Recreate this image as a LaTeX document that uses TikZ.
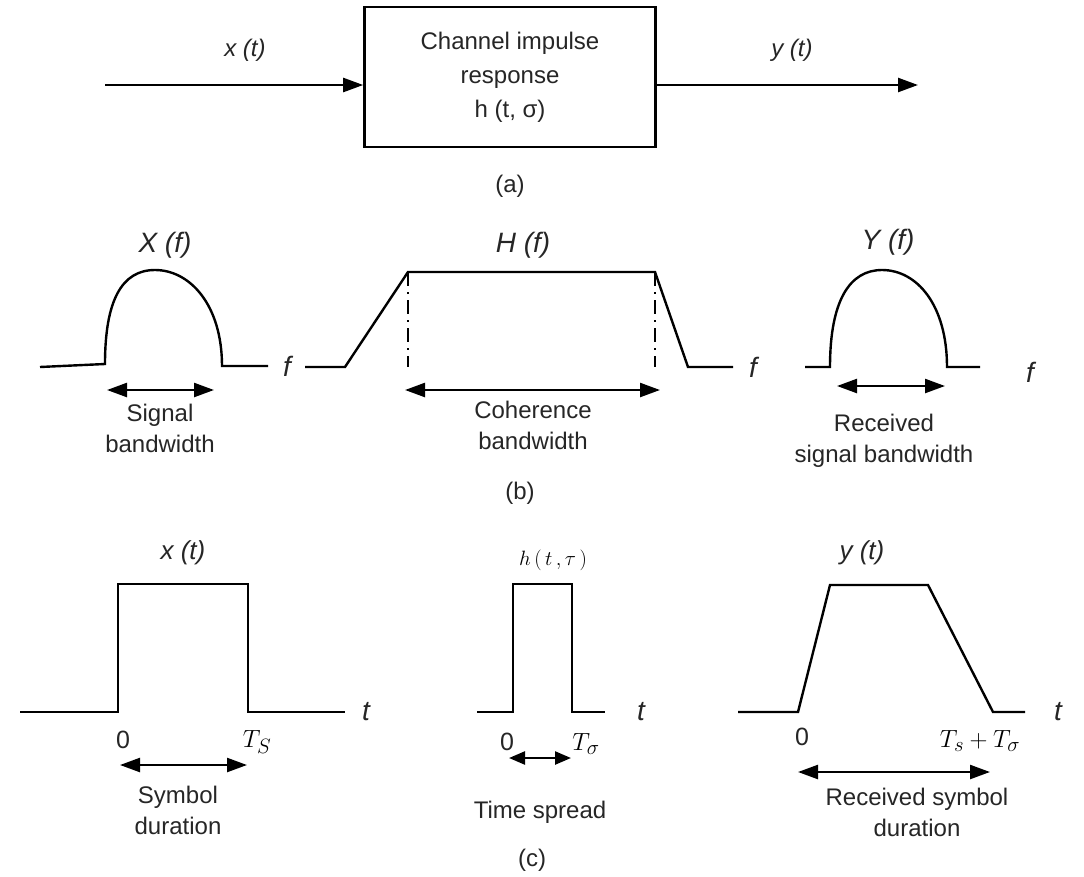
\documentclass[tikz,border=0pt]{standalone}
\usepackage{fontspec}
\setmainfont{Liberation Sans}
\usetikzlibrary{arrows.meta}
\tikzset{
  sig/.style={line width=2.4pt, line join=miter},
  arr/.style={line width=2.4pt, -{Triangle[length=20pt,width=14pt]}},
  darr/.style={line width=2.4pt, {Triangle[length=20pt,width=14pt]}-{Triangle[length=20pt,width=14pt]}},
  dd/.style={line width=1.5pt, dash pattern=on 14pt off 6pt on 2pt off 6pt},
  lbl/.style={font=\fontsize{24}{31}\selectfont, align=center, inner sep=0pt, text=black!85},
  ital/.style={font=\fontsize{28}{30}\selectfont\itshape, inner sep=0pt, text=black!85},
  mth/.style={font=\fontsize{30}{34}\selectfont, inner sep=0pt, text=black},
  blk/.style={draw, line width=2.6pt, minimum width=291pt, minimum height=140pt, align=center,
              font=\fontsize{24}{34}\selectfont, text=black!85}
}
\begin{document}
\begin{tikzpicture}[x=1pt,y=-1pt]
\fill[white] (0,0) rectangle (1084,876);
\useasboundingbox (0,0) rectangle (1084,876);

% ---------------- (a)
\node[blk] (box) at (510,77) {Channel impulse\\response\\h (t, σ)};
\coordinate (xin) at (105,85);
\coordinate (yout) at (918,85);
\draw[arr] (xin) -- (xin -| box.west);
\draw[arr] (xin -| box.east) -- (yout);
\node[ital, font=\fontsize{24}{30}\selectfont\itshape] (xlab) at (245,50) {x (t)};
\node[ital, font=\fontsize{24}{30}\selectfont\itshape] (ylab) at (792,50) {y (t)};
\node[lbl] (capa) at (510,186) {(a)};

% ---------------- (b) left: X(f)
\coordinate (xb0) at (40,367);
\coordinate (xb1) at (105,364);
\coordinate (xb2) at (222,366);
\coordinate (xb3) at (268,366);
\draw[sig] (xb0) -- (xb1) .. controls (105,300) and (122,270) .. (155,270)
  .. controls (190,270) and (222,305) .. (xb2) -- (xb3);
\node[ital] (Xf) at (165,245) {X (f)};
\node[ital] (f1) at (287,366) {f};
\coordinate (sba) at (107,390);
\coordinate (sbb) at (214,390);
\draw[darr] (sba) -- (sbb);
\node[lbl] (sbl) at (160,428) {Signal\\bandwidth};

% ---------------- (b) middle: H(f)
\coordinate (h0) at (305,367);
\coordinate (h1) at (345,367);
\coordinate (h2) at (408,272);
\coordinate (h3) at (655,272);
\coordinate (h4) at (688,367);
\coordinate (h5) at (733,367);
\draw[sig] (h0) -- (h1) -- (h2) -- (h3) -- (h4) -- (h5);
\coordinate (h2b) at (408,367);
\coordinate (h3b) at (655,367);
\draw[dd] (h2) -- (h2b);
\draw[dd] (h3) -- (h3b);
\node[ital] (Hf) at (523,245) {H (f)};
\node[ital] (f2) at (753,367) {f};
\coordinate (cba) at (405,390);
\coordinate (cbb) at (660,390);
\draw[darr] (cba) -- (cbb);
\node[lbl] (cbl) at (533,425) {Coherence\\bandwidth};
\node[lbl] (capb) at (520,493) {(b)};

% ---------------- (b) right: Y(f)
\coordinate (yb0) at (805,367);
\coordinate (yb1) at (830,367);
\coordinate (yb2) at (947,367);
\coordinate (yb3) at (980,367);
\draw[sig] (yb0) -- (yb1) .. controls (830,300) and (850,270) .. (882,270)
  .. controls (917,270) and (947,305) .. (yb2) -- (yb3);
\node[ital] (Yf) at (888,242) {Y (f)};
\node[ital] (f3) at (1030,372) {f};
\coordinate (rba) at (837,386);
\coordinate (rbb) at (945,386);
\draw[darr] (rba) -- (rbb);
\node[lbl] (rbl) at (884,441) {Received\\signal bandwidth};

% ---------------- (c) left: x(t)
\coordinate (c0) at (20,712);
\coordinate (c1) at (118,712);
\coordinate (c2) at (118,584);
\coordinate (c3) at (248,584);
\coordinate (c4) at (248,712);
\coordinate (c5) at (345,712);
\draw[sig] (c0) -- (c1) -- (c2) -- (c3) -- (c4) -- (c5);
\node[ital, font=\fontsize{26}{30}\selectfont\itshape] (xt) at (183,553) {x (t)};
\node[ital] (t1) at (366,712) {t};
\node[lbl, font=\fontsize{25}{30}\selectfont] (z1) at (123,740) {0};
\node[mth] (ts1) at (257,742) {$T_S$};
\coordinate (sda) at (120,765);
\coordinate (sdb) at (247,765);
\draw[darr] (sda) -- (sdb);
\node[lbl] (sdl) at (178,810) {Symbol\\duration};

% ---------------- (c) middle: h(t,tau)
\coordinate (m0) at (477,712);
\coordinate (m1) at (513,712);
\coordinate (m2) at (513,584);
\coordinate (m3) at (572,584);
\coordinate (m4) at (572,712);
\coordinate (m5) at (605,712);
\draw[sig] (m0) -- (m1) -- (m2) -- (m3) -- (m4) -- (m5);
\node[mth, font=\fontsize{22}{26}\selectfont] (ht) at (553,560) {$h\,(\,t\,,\tau\,)$};
\node[ital] (t2) at (641,712) {t};
\node[lbl, font=\fontsize{25}{30}\selectfont] (z2) at (507,742) {0};
\node[mth] (ts2) at (586,744) {$T_\sigma$};
\coordinate (tsa) at (509,758);
\coordinate (tsb) at (571,758);
\draw[darr, {Triangle[length=16pt,width=13pt]}-{Triangle[length=16pt,width=13pt]}] (tsa) -- (tsb);
\node[lbl] (tsl) at (540,812) {Time spread};
\node[lbl] (capc) at (532,860) {(c)};

% ---------------- (c) right: y(t)
\coordinate (r0) at (738,712);
\coordinate (r1) at (798,712);
\coordinate (r2) at (830,585);
\coordinate (r3) at (928,585);
\coordinate (r4) at (993,712);
\coordinate (r5) at (1025,712);
\draw[sig] (r0) -- (r1) -- (r2) -- (r3) -- (r4) -- (r5);
\node[ital, font=\fontsize{26}{30}\selectfont\itshape] (yt) at (862,553) {y (t)};
\node[ital] (t3) at (1058,712) {t};
\node[lbl, font=\fontsize{25}{30}\selectfont] (z3) at (802,737) {0};
\node[mth] (tst) at (980,741) {$T_s+T_\sigma$};
\coordinate (rsa) at (798,772);
\coordinate (rsb) at (990,772);
\draw[darr] (rsa) -- (rsb);
\node[lbl] (rsl) at (917,812) {Received symbol\\duration};
\end{tikzpicture}
\end{document}
